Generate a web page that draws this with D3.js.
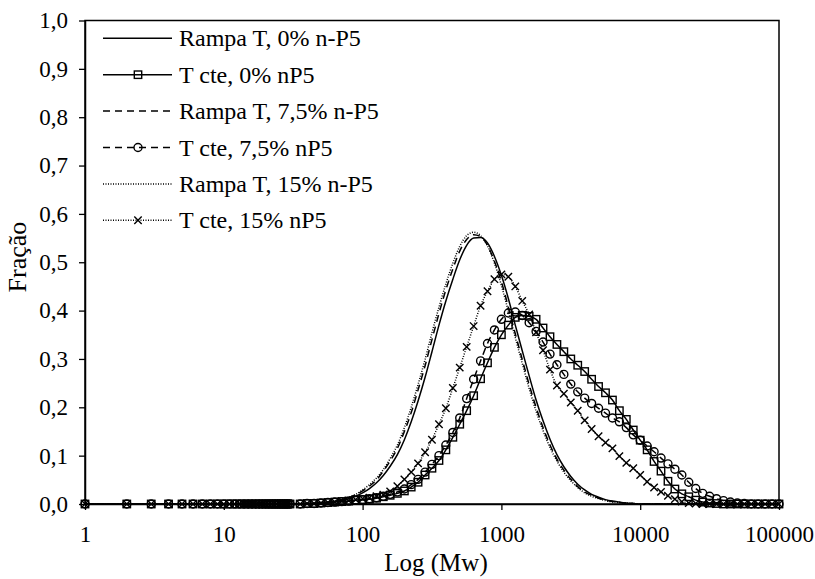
<!DOCTYPE html>
<html lang="pt">
<head>
<meta charset="UTF-8">
<title>Fração x Log (Mw)</title>
<script src="https://d3js.org/d3.v7.min.js"></script>
<style>
    body { margin: 0; background: #fff; }
    svg text { font-family: "Liberation Serif", "Times New Roman", serif; fill: #000; }
    .line { fill: none; stroke: #000; stroke-width: 1.5px; }
    .mark { fill: none; stroke: #000; stroke-width: 1.4px; }
</style>
</head>
<body>
<div id="chart"></div>
<script>
    // Mw values (x) shared by all series
    var mw = [1, 2, 3, 4, 5, 6, 7, 8, 9, 10, 11, 12, 13, 14, 15, 16, 17, 18, 19, 20,
        21, 22, 23, 24, 25, 26, 27, 28, 29, 30,
        35.5, 39.8, 44.7, 50.1, 56.2, 63.1, 70.8, 79.4, 89.1,
        100, 112, 126, 141, 158, 178, 200, 224, 251, 282, 316, 355, 398, 447, 501, 562, 631, 708, 794, 891,
        1000, 1122, 1259, 1413, 1585, 1778, 1995, 2239, 2512, 2818, 3162, 3548, 3981, 4467, 5012, 5623, 6310, 7079, 7943, 8913,
        10000, 11220, 12589, 14125, 15849, 17783, 19953, 22387, 25119, 28184, 31623, 35481, 39811, 44668, 50119, 56234, 63096, 70795, 79433, 89125,
        100000];

    var rampa0 = [0,0,0,0,0,0,0,0,0,0,0,0,0,0,0,0,0,0,0,0,0,0,0,0,0,0,0,0,0,0,
        0.000, 0.001, 0.001, 0.002, 0.003, 0.005, 0.007, 0.011, 0.016,
        0.023, 0.032, 0.044, 0.059, 0.078, 0.102, 0.133, 0.170, 0.213, 0.262, 0.315, 0.370, 0.420, 0.465, 0.505, 0.535, 0.550, 0.551, 0.540, 0.512,
        0.473, 0.425, 0.370, 0.317, 0.265, 0.215, 0.172, 0.134, 0.102, 0.077, 0.057, 0.041, 0.029, 0.020, 0.014, 0.009, 0.006, 0.004, 0.002, 0.001,
        0, 0, 0, 0, 0, 0, 0, 0, 0, 0, 0, 0, 0, 0, 0, 0, 0, 0, 0, 0,
        0];

    var cte0 = [0,0,0,0,0,0,0,0,0,0,0,0,0,0,0,0,0,0,0,0,0,0,0,0,0,0,0,0,0,0,
        0.000, 0.001, 0.001, 0.002, 0.003, 0.004, 0.005, 0.006, 0.008,
        0.009, 0.010, 0.012, 0.015, 0.018, 0.022, 0.027, 0.035, 0.045, 0.060, 0.074, 0.090, 0.112, 0.138, 0.165, 0.193, 0.224, 0.259, 0.292, 0.324,
        0.350, 0.370, 0.386, 0.390, 0.388, 0.382, 0.364, 0.346, 0.330, 0.315, 0.300, 0.287, 0.274, 0.258, 0.243, 0.230, 0.215, 0.193, 0.175, 0.153,
        0.132, 0.112, 0.088, 0.068, 0.047, 0.031, 0.021, 0.015, 0.008, 0.004, 0.002, 0.001, 0, 0, 0, 0, 0, 0, 0, 0,
        0];

    var rampa75 = [0,0,0,0,0,0,0,0,0,0,0,0,0,0,0,0,0,0,0,0,0,0,0,0,0,0,0,0,0,0,
        0.000, 0.001, 0.001, 0.002, 0.004, 0.006, 0.009, 0.013, 0.019,
        0.027, 0.037, 0.050, 0.068, 0.089, 0.115, 0.150, 0.189, 0.236, 0.286, 0.340, 0.394, 0.443, 0.486, 0.523, 0.547, 0.557, 0.553, 0.535, 0.502,
        0.460, 0.407, 0.352, 0.299, 0.247, 0.200, 0.158, 0.122, 0.093, 0.070, 0.051, 0.036, 0.025, 0.018, 0.012, 0.008, 0.005, 0.003, 0.002, 0.001,
        0, 0, 0, 0, 0, 0, 0, 0, 0, 0, 0, 0, 0, 0, 0, 0, 0, 0, 0, 0,
        0];

    var cte75 = [0,0,0,0,0,0,0,0,0,0,0,0,0,0,0,0,0,0,0,0,0,0,0,0,0,0,0,0,0,0,
        0.000, 0.001, 0.001, 0.002, 0.003, 0.004, 0.005, 0.006, 0.008,
        0.009, 0.011, 0.013, 0.016, 0.020, 0.025, 0.031, 0.040, 0.051, 0.066, 0.082, 0.100, 0.122, 0.148, 0.178, 0.218, 0.258, 0.296, 0.332, 0.360,
        0.382, 0.395, 0.397, 0.390, 0.375, 0.357, 0.335, 0.310, 0.288, 0.268, 0.248, 0.232, 0.219, 0.208, 0.198, 0.188, 0.178, 0.170, 0.158, 0.143,
        0.132, 0.120, 0.108, 0.095, 0.083, 0.072, 0.060, 0.045, 0.032, 0.022, 0.016, 0.011, 0.007, 0.004, 0.002, 0.001, 0, 0, 0, 0,
        0];

    var rampa15 = [0,0,0,0,0,0,0,0,0,0,0,0,0,0,0,0,0,0,0,0,0,0,0,0,0,0,0,0,0,0,
        0.000, 0.001, 0.002, 0.003, 0.004, 0.007, 0.010, 0.014, 0.020,
        0.029, 0.040, 0.054, 0.071, 0.094, 0.122, 0.158, 0.200, 0.247, 0.299, 0.354, 0.407, 0.455, 0.498, 0.533, 0.555, 0.562, 0.555, 0.534, 0.498,
        0.452, 0.399, 0.344, 0.291, 0.239, 0.192, 0.152, 0.117, 0.089, 0.066, 0.048, 0.034, 0.023, 0.016, 0.011, 0.007, 0.004, 0.003, 0.002, 0.001,
        0, 0, 0, 0, 0, 0, 0, 0, 0, 0, 0, 0, 0, 0, 0, 0, 0, 0, 0, 0,
        0];

    var cte15 = [0,0,0,0,0,0,0,0,0,0,0,0,0,0,0,0,0,0,0,0,0,0,0,0,0,0,0,0,0,0,
        0.000, 0.001, 0.001, 0.002, 0.003, 0.004, 0.006, 0.007, 0.009,
        0.011, 0.013, 0.016, 0.019, 0.026, 0.037, 0.051, 0.066, 0.084, 0.107, 0.133, 0.165, 0.198, 0.240, 0.282, 0.325, 0.368, 0.410, 0.440, 0.465,
        0.475, 0.470, 0.450, 0.420, 0.392, 0.355, 0.318, 0.278, 0.245, 0.228, 0.210, 0.193, 0.173, 0.155, 0.140, 0.127, 0.115, 0.099, 0.085, 0.074,
        0.060, 0.046, 0.034, 0.025, 0.017, 0.010, 0.005, 0.002, 0.001, 0, 0, 0, 0, 0, 0, 0, 0, 0, 0, 0,
        0];

    var seriesNames = ["Rampa T, 0% n-P5", "T cte, 0% nP5", "Rampa T, 7,5% n-P5",
        "T cte, 7,5% nP5", "Rampa T, 15% n-P5", "T cte, 15% nP5"];
    var xTicks = [1, 10, 100, 1000, 10000, 100000];
    var yTicks = [0, 0.1, 0.2, 0.3, 0.4, 0.5, 0.6, 0.7, 0.8, 0.9, 1.0];

    var series = [
        { name: seriesNames[0], values: rampa0,  dash: null,    marker: null },
        { name: seriesNames[1], values: cte0,    dash: null,    marker: "square" },
        { name: seriesNames[2], values: rampa75, dash: "7,5",   marker: null },
        { name: seriesNames[3], values: cte75,   dash: "7,5",   marker: "circle" },
        { name: seriesNames[4], values: rampa15, dash: "1,1.5", marker: null },
        { name: seriesNames[5], values: cte15,   dash: "1,1.5", marker: "cross" }
    ];

    var width = 815, height = 579;
    var margin = { top: 20.5, right: 36, bottom: 75, left: 85 };

    var svg = d3.select("#chart").append("svg")
        .attr("width", width)
        .attr("height", height);

    var x = d3.scaleLog().domain([1, 100000]).range([margin.left, width - margin.right]);
    var y = d3.scaleLinear().domain([0, 1]).range([height - margin.bottom, margin.top]);

    var ptBR = d3.formatLocale({ decimal: ",", thousands: ".", grouping: [3], currency: ["", ""] });

    // axes
    var xAxis = svg.append("g")
        .attr("transform", "translate(0," + (height - margin.bottom) + ")")
        .call(d3.axisBottom(x).tickValues(xTicks).tickFormat(d3.format("d"))
            .tickSize(6).tickSizeOuter(0).tickPadding(16));
    var yAxis = svg.append("g")
        .attr("transform", "translate(" + margin.left + ",0)")
        .call(d3.axisLeft(y).tickValues(yTicks).tickFormat(ptBR.format(".1f"))
            .tickSize(6).tickSizeOuter(0).tickPadding(11));

    [xAxis, yAxis].forEach(function(a) {
        a.selectAll("text").style("font-size", "23px");
        a.selectAll("line").attr("stroke", "#000").attr("stroke-width", 1.3);
        a.select(".domain").attr("stroke", "#000").attr("stroke-width", 1.5);
    });

    // plot frame
    svg.append("rect")
        .attr("x", margin.left)
        .attr("y", margin.top)
        .attr("width", width - margin.left - margin.right)
        .attr("height", height - margin.top - margin.bottom)
        .attr("fill", "none")
        .attr("stroke", "#000")
        .attr("stroke-width", 1.5);

    var line = d3.line()
        .x(function(d) { return x(d[0]); })
        .y(function(d) { return y(d[1]); })
        .curve(d3.curveMonotoneX);

    function drawMarker(g, type, cx, cy) {
        if (type === "square") {
            g.append("rect").attr("class", "mark")
                .attr("x", cx - 3.7).attr("y", cy - 3.7)
                .attr("width", 7.4).attr("height", 7.4);
        } else if (type === "circle") {
            g.append("circle").attr("class", "mark")
                .attr("cx", cx).attr("cy", cy).attr("r", 4);
        } else if (type === "cross") {
            g.append("path").attr("class", "mark")
                .attr("d", "M" + (cx - 3.7) + "," + (cy - 3.7) + "L" + (cx + 3.7) + "," + (cy + 3.7) +
                    "M" + (cx - 3.7) + "," + (cy + 3.7) + "L" + (cx + 3.7) + "," + (cy - 3.7));
        }
    }

    var plot = svg.append("g");

    series.forEach(function(s) {
        var pts = mw.map(function(m, i) { return [m, s.values[i]]; });
        var g = plot.append("g");
        g.append("path")
            .datum(pts)
            .attr("class", "line")
            .attr("stroke-dasharray", s.dash)
            .attr("d", line);
        if (s.marker) {
            pts.forEach(function(p) { drawMarker(g, s.marker, x(p[0]), y(p[1])); });
        }
    });

    // legend
    var legend = svg.append("g");
    series.forEach(function(s, i) {
        var ly = 38.3 + i * 36.4;
        legend.append("line")
            .attr("class", "line")
            .attr("x1", 103).attr("x2", 172)
            .attr("y1", ly).attr("y2", ly)
            .attr("stroke-dasharray", s.dash);
        if (s.marker) {
            var mg = legend.append("g");
            drawMarker(mg, s.marker, 138, ly);
        }
        legend.append("text")
            .attr("x", 179)
            .attr("y", ly + 8)
            .style("font-size", "24px")
            .text(s.name);
    });

    // axis titles
    svg.append("text")
        .attr("x", (margin.left + width - margin.right) / 2 + 4)
        .attr("y", 571)
        .attr("text-anchor", "middle")
        .style("font-size", "25px")
        .text("Log (Mw)");

    svg.append("text")
        .attr("transform", "translate(26,257) rotate(-90)")
        .attr("text-anchor", "middle")
        .style("font-size", "26px")
        .text("Fração");
</script>
</body>
</html>
